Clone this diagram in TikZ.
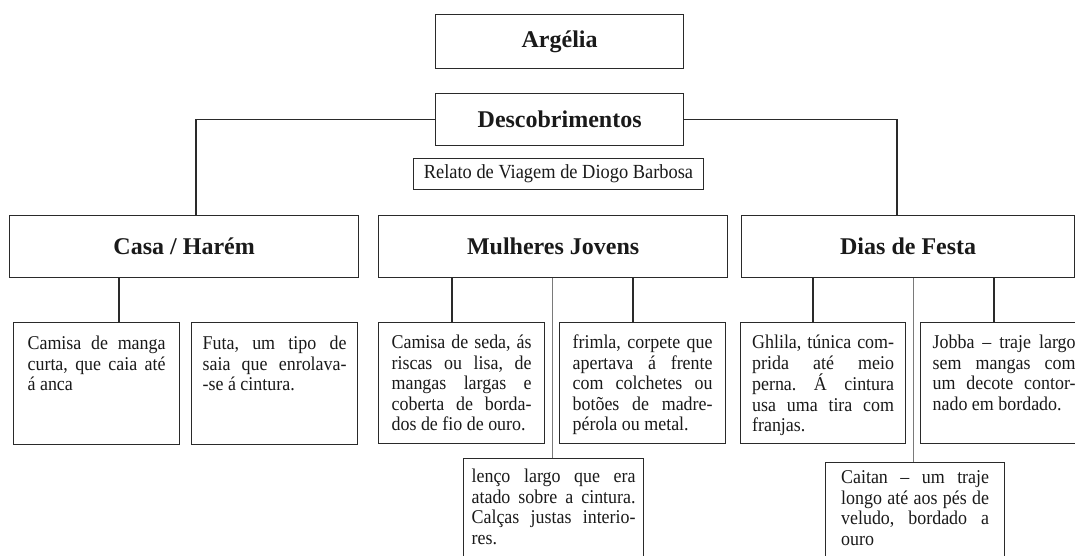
\documentclass[tikz,border=0pt]{standalone}
\usepackage{fontspec}
\setmainfont{Liberation Serif}
\newfontfamily\bodyfam{Liberation Serif}[FakeStretch=0.92]
\definecolor{linec}{HTML}{2A2A2A}
\definecolor{grayc}{HTML}{7A7A7A}
\definecolor{txt}{HTML}{1A1A1A}
\newcommand{\btxt}{\bodyfam\fontsize{19.5pt}{20.5pt}\selectfont}
\newcommand{\tb}[3]{\parbox[c][#2][t]{#1}{\btxt\frenchspacing\hyphenpenalty=10000\exhyphenpenalty=10000\tolerance=10000\strut #3}}
\tikzset{
  conn/.style={draw=linec, line width=1.3pt},
  gconn/.style={draw=grayc, line width=1pt},
  hbox/.style={draw=linec, line width=1.3pt, anchor=north west, inner sep=0pt, text=txt,
    font=\fontsize{24pt}{28pt}\selectfont\bfseries},
  tbox/.style={draw=linec, line width=1.2pt, anchor=north west, inner sep=0pt, text=txt}
}
\begin{document}
\begin{tikzpicture}[x=1pt,y=-1pt]
\useasboundingbox (0,0) rectangle (1075,556);
\fill[white] (0,0) rectangle (1075,556);
\clip (0,0) rectangle (1075,556);

% top boxes
\node[hbox, minimum width=248pt, minimum height=54pt] (arg) at (435,14) {Argélia};
\node[hbox, minimum width=248pt, minimum height=52pt] (desc) at (435,93) {Descobrimentos};
\node[tbox, line width=1pt, minimum width=290pt, minimum height=31pt, font=\bodyfam\fontsize{20pt}{22pt}\selectfont] (rel) at (413,158) {Relato de Viagem de Diogo Barbosa};

% category boxes
\node[hbox, minimum width=349pt, minimum height=62pt] (casa) at (9,215) {Casa / Harém};
\node[hbox, minimum width=349pt, minimum height=62pt] (mul) at (378,215) {Mulheres Jovens};
\node[hbox, minimum width=333pt, minimum height=62pt] (dias) at (741,215) {Dias de Festa};

% coordinates for connector ends
\coordinate (kc) at (196,215);
\coordinate (kd) at (897,215);
\coordinate (k1) at (119,322);
\coordinate (k2) at (452,322);
\coordinate (k3) at (633,322);
\coordinate (k4) at (552,458);
\coordinate (k5) at (813,322);
\coordinate (k6) at (994,322);
\coordinate (k7) at (913,462);

% leaf boxes
\node[tbox, inner xsep=14pt, inner ysep=12.65pt] (cm) at (13,322)
  {\tb{138pt}{96.7pt}{Camisa de manga\linebreak curta, que caia até\linebreak á anca}};
\node[tbox, inner xsep=11pt, inner ysep=12.65pt] (fu) at (191,322)
  {\tb{144pt}{96.7pt}{Futa, um tipo de\linebreak saia que enrolava-\linebreak -se á cintura.}};
\node[tbox, inner xsep=13pt, inner ysep=11.65pt] (cs) at (378,322)
  {\tb{140pt}{97.7pt}{Camisa de seda, ás\linebreak riscas ou lisa, de\linebreak mangas largas e\linebreak coberta de borda-\linebreak dos de fio de ouro.}};
\node[tbox, inner xsep=13pt, inner ysep=11.65pt] (fr) at (559,322)
  {\tb{140pt}{97.7pt}{frimla, corpete que\linebreak apertava á frente\linebreak com colchetes ou\linebreak botões de madre-\linebreak pérola ou metal.}};
\node[tbox, inner xsep=8pt, inner ysep=9.65pt] (le) at (463,458)
  {\tb{164pt}{110.7pt}{lenço largo que era\linebreak atado sobre a cintura.\linebreak Calças justas interio-\linebreak res.}};
\node[tbox, inner xsep=11.5pt, inner ysep=11.65pt] (gh) at (740,322)
  {\tb{142pt}{97.7pt}{Ghlila, túnica com-\linebreak prida até meio\linebreak perna. Á cintura\linebreak usa uma tira com\linebreak franjas.}};
\node[tbox, inner xsep=12pt, inner ysep=11.65pt] (jo) at (920,322)
  {\tb{143pt}{97.7pt}{Jobba – traje largo\linebreak sem mangas com\linebreak um decote contor-\linebreak nado em bordado.}};
\node[tbox, inner xsep=15.5pt, inner ysep=6.65pt] (ca) at (825,462)
  {\tb{148pt}{116.7pt}{Caitan – um traje\linebreak longo até aos pés de\linebreak veludo, bordado a\linebreak ouro}};

% connectors
\draw[conn] (desc.west) -| (kc);
\draw[conn] (desc.east) -| (kd);
\draw[conn] (casa.south -| k1) -- (k1);
\draw[conn] (mul.south -| k2) -- (k2);
\draw[conn] (mul.south -| k3) -- (k3);
\draw[gconn] (mul.south -| k4) -- (k4);
\draw[conn] (dias.south -| k5) -- (k5);
\draw[conn] (dias.south -| k6) -- (k6);
\draw[gconn] (dias.south -| k7) -- (k7);
\end{tikzpicture}
\end{document}
